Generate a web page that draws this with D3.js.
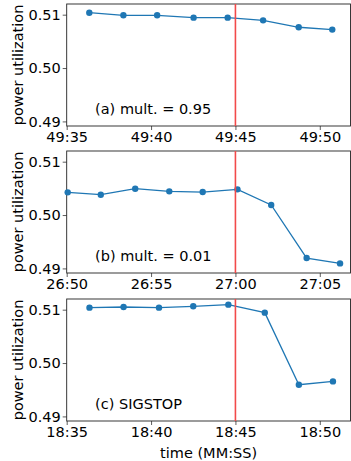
<!DOCTYPE html>
<html>
<head>
<meta charset="utf-8">
<script src="https://cdn.jsdelivr.net/npm/d3@7"></script>
<style>
  body { margin: 0; background: #fff; }
  svg text { font-family: "DejaVu Sans", sans-serif; fill: #000; }
</style>
</head>
<body>
<svg id="chart" width="351" height="461"></svg>
<script>
// DATA ---------------------------------------------------------------
// times are seconds since the hour (MM*60 + SS)
const timesA = [2976.34, 2978.36, 2980.36, 2982.52, 2984.54, 2986.64, 2988.75, 2990.74];
const powerA = [0.51037, 0.50988, 0.50988, 0.50944, 0.50944, 0.50894, 0.50764, 0.50720];

const timesB = [1610.06, 1612.02, 1614.06, 1616.08, 1618.06, 1620.12, 1622.12, 1624.22, 1626.20];
const powerB = [0.50425, 0.50381, 0.50494, 0.50444, 0.50431, 0.50481, 0.50188, 0.49194, 0.49094];

const timesC = [1116.35, 1118.37, 1120.47, 1122.50, 1124.58, 1126.74, 1128.76, 1130.78];
const powerC = [0.51038, 0.51050, 0.51038, 0.51063, 0.51094, 0.50944, 0.49594, 0.49656];

const panelLabels = ["(a) mult. = 0.95", "(b) mult. = 0.01", "(c) SIGSTOP"];
const panelStarts = [2975, 1610, 1115];   // 49:35, 26:50, 18:35
const eventTimes = [2985, 1620, 1125];    // 49:45, 27:00, 18:45
const yTicks = [0.49, 0.50, 0.51];

const panels = [
    { times: timesA, power: powerA },
    { times: timesB, power: powerB },
    { times: timesC, power: powerC }
];

// LAYOUT -------------------------------------------------------------
const svg = d3.select("#chart");
const left = 66.7, right = 350.5;
const panelTops = [4, 151, 299];
const panelH = 122;
const span = 16.82;
const fs = 14.5;

const fmt = s => {
    const m = Math.floor(s / 60), sec = Math.round(s % 60);
    return `${m}:${String(sec).padStart(2, "0")}`;
};

panels.forEach((p, i) => {
    const top = panelTops[i];
    const x = d3.scaleLinear()
        .domain([panelStarts[i], panelStarts[i] + span])
        .range([left, right]);
    const y = d3.scaleLinear()
        .domain([0.48914, 0.5120])
        .range([top + panelH, top]);

    const g = svg.append("g");

    // axes
    const xTicks = d3.range(panelStarts[i], panelStarts[i] + span, 5);
    const xAxis = g.append("g")
        .attr("transform", `translate(0,${top + panelH})`)
        .call(d3.axisBottom(x).tickValues(xTicks).tickFormat(fmt).tickSize(4).tickSizeOuter(0));
    const yAxis = g.append("g")
        .attr("transform", `translate(${left},0)`)
        .call(d3.axisLeft(y).tickValues(yTicks).tickFormat(d3.format(".2f")).tickSize(4).tickSizeOuter(0));

    [xAxis, yAxis].forEach(a => {
        a.select(".domain").remove();
        a.selectAll(".tick line").attr("stroke", "#333").attr("stroke-width", 0.8);
        a.selectAll(".tick text").attr("font-size", fs).style("font-family", "DejaVu Sans");
    });
    xAxis.selectAll(".tick text").attr("dy", "0.71em").attr("y", 6);
    yAxis.selectAll(".tick text").attr("x", -6);

    // frame
    g.append("rect")
        .attr("x", left).attr("y", top)
        .attr("width", right - left).attr("height", panelH)
        .attr("fill", "none").attr("stroke", "#222").attr("stroke-width", 0.9);

    // series
    const pts = p.times.map((t, k) => [t, p.power[k]]);
    const line = d3.line().x(d => x(d[0])).y(d => y(d[1]));
    g.append("path")
        .datum(pts)
        .attr("fill", "none")
        .attr("stroke", "#1f77b4")
        .attr("stroke-width", 1.3)
        .attr("d", line);
    g.selectAll(".pt")
        .data(pts)
        .enter()
        .append("circle")
        .attr("cx", d => x(d[0]))
        .attr("cy", d => y(d[1]))
        .attr("r", 3.2)
        .attr("fill", "#1f77b4");

    // event line
    g.append("line")
        .attr("x1", x(eventTimes[i])).attr("x2", x(eventTimes[i]))
        .attr("y1", top).attr("y2", top + panelH)
        .attr("stroke", "#f24a4a")
        .attr("stroke-width", 1.6);

    // annotation
    g.append("text")
        .attr("x", left + 0.1 * (right - left))
        .attr("y", top + panelH - 0.1 * panelH)
        .attr("font-size", fs)
        .text(panelLabels[i]);

    // y label
    g.append("text")
        .attr("transform", `translate(${23},${top + panelH / 2}) rotate(-90)`)
        .attr("text-anchor", "middle")
        .attr("font-size", fs)
        .text("power utilization");
});

svg.append("text")
    .attr("x", (left + right) / 2)
    .attr("y", 458)
    .attr("text-anchor", "middle")
    .attr("font-size", fs)
    .text("time (MM:SS)");
</script>
</body>
</html>
